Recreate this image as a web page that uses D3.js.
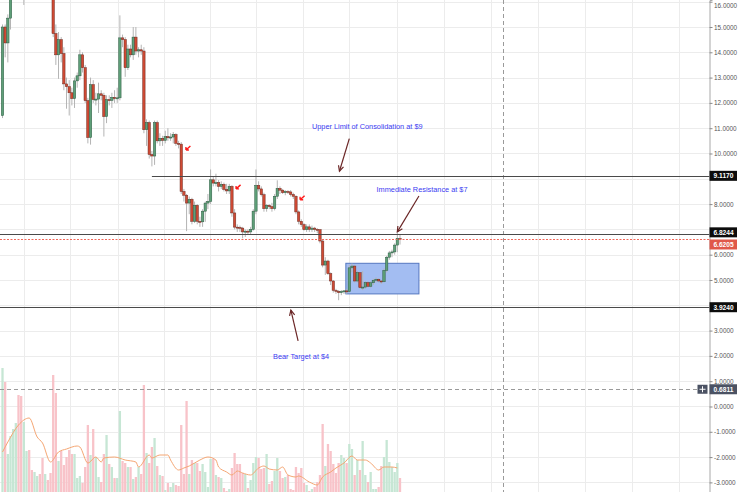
<!DOCTYPE html>
<html><head><meta charset="utf-8">
<script src="https://cdn.jsdelivr.net/npm/d3@7"></script>
<style>html,body{margin:0;padding:0;background:#fff;overflow:hidden}</style>
</head><body><svg id="c" width="740" height="492"></svg>
<script>
// ---------- data ----------
const opens=[11.5,15.0,14.37,15.35,16.3,16.8,17.3,16.9,16.4,17.2,
17.8,17.5,17.1,17.6,18.0,17.3,16.9,17.2,16.6,16.5,
14.74,13.9,14.5,13.95,12.75,12.64,12.4,12.17,12.87,13.07,
13.9,13.39,12.09,10.63,12.72,12.13,12.15,12.36,12.3,11.46,
12.13,12.1,12.22,12.17,12.2,14.57,14.5,13.39,14.13,13.9,
14.6,14.05,14.1,14.05,10.94,11.22,9.96,9.9,11.22,10.5,
10.6,10.52,10.67,10.62,10.65,10.75,10.4,10.37,8.5,8.35,
8.04,8.19,7.32,7.95,7.32,7.3,7.72,8.04,8.11,8.96,
8.83,8.85,8.7,8.78,8.58,8.52,8.7,7.65,7.09,7.08,
7.05,6.9,6.93,6.9,7.0,7.72,8.74,8.6,8.37,7.82,
7.95,7.9,7.82,8.31,8.62,8.55,8.45,8.5,8.48,8.38,
8.31,7.69,7.32,7.19,6.99,7.1,7.0,7.05,7.0,6.99,
6.54,5.59,5.75,5.25,4.96,4.59,4.55,4.5,4.54,4.57,
4.54,5.48,5.55,4.96,5.29,4.7,4.72,4.9,4.75,4.89,
4.99,5.03,4.96,4.93,5.38,5.9,6.07,6.11,6.38,6.64];
const highs=[15.1,15.1,15.5,16.4,17.0,17.6,17.5,17.2,17.4,18.0,
18.4,17.9,17.8,18.2,18.3,17.6,17.5,17.4,17.0,16.6,
15.1,14.8,14.6,14.2,13.0,12.9,12.6,13.0,13.2,14.1,
14.0,13.5,12.2,13.0,12.9,12.4,12.8,12.5,12.4,12.3,
12.3,12.4,12.5,12.6,15.46,14.7,14.6,14.3,14.3,15.0,
15.0,14.2,14.3,14.2,11.35,11.3,10.1,11.3,11.3,10.8,
10.7,10.9,11.0,10.8,10.85,10.8,10.5,10.45,8.6,8.4,
8.3,8.25,8.1,8.0,7.5,7.8,8.1,8.4,9.37,9.1,
9.2,8.95,8.9,8.85,8.8,8.8,8.75,7.8,7.2,7.15,
7.1,7.0,7.0,7.1,7.8,9.37,8.9,8.7,8.45,8.0,
8.0,8.05,8.4,8.94,8.7,8.6,8.55,8.55,8.55,8.45,
8.35,7.75,7.4,7.25,7.2,7.2,7.15,7.1,7.05,7.0,
6.6,5.9,5.8,5.3,5.0,4.65,4.6,4.6,4.6,4.65,
5.6,5.65,5.6,5.35,5.3,5.35,4.95,4.95,4.95,5.05,
5.1,5.06,5.0,5.45,5.95,6.15,6.2,6.45,6.86,6.8];
const lows=[11.4,13.8,13.6,14.9,16.1,16.5,16.6,16.2,15.87,17.0,
17.3,16.9,16.8,17.2,17.1,16.6,16.5,16.3,16.1,14.6,
13.5,12.95,13.6,12.5,11.77,11.5,11.9,11.8,12.6,12.9,
13.2,12.0,10.4,10.35,12.0,11.9,11.6,12.1,10.67,11.2,
11.9,11.8,12.0,12.0,12.1,14.2,13.03,13.3,13.8,13.7,
13.9,13.8,13.9,10.8,10.3,9.8,9.49,9.55,10.4,10.3,
10.3,10.4,10.5,10.5,10.4,10.3,10.2,8.4,8.1,6.93,
7.6,7.2,7.25,7.2,7.1,7.1,7.3,7.8,8.0,8.7,
8.7,8.5,8.6,8.5,8.4,8.4,7.5,7.0,6.9,6.9,
6.65,6.7,6.8,6.8,6.95,7.6,8.5,8.3,7.7,7.7,
7.8,7.7,7.75,8.2,8.4,8.4,8.35,8.4,8.3,8.2,
7.6,7.2,7.1,6.95,6.9,6.9,6.9,6.9,6.85,6.45,
5.5,5.2,5.2,4.8,4.5,4.45,4.2,4.4,4.45,4.45,
4.5,5.3,4.9,4.9,4.65,4.6,4.65,4.7,4.7,4.8,
4.9,4.9,4.85,4.9,5.3,5.8,5.9,6.0,6.1,6.4];
const closes=[15.0,14.37,15.35,16.3,16.8,17.3,16.9,16.4,17.2,17.8,
17.5,17.1,17.6,18.0,17.3,16.9,17.2,16.6,16.5,14.74,
13.9,14.5,13.95,12.75,12.64,12.4,12.17,12.87,13.07,13.9,
13.39,12.09,10.63,12.72,12.13,12.15,12.36,12.3,11.46,12.13,
12.1,12.22,12.17,12.2,14.57,14.5,13.39,14.13,13.9,14.6,
14.05,14.1,14.05,10.94,11.22,9.96,9.9,11.22,10.5,10.6,
10.52,10.67,10.62,10.65,10.75,10.4,10.37,8.5,8.35,8.04,
8.19,7.32,7.95,7.32,7.3,7.72,8.04,8.11,8.96,8.83,
8.85,8.7,8.78,8.58,8.52,8.7,7.65,7.09,7.08,7.05,
6.9,6.93,6.9,7.0,7.72,8.74,8.6,8.37,7.82,7.95,
7.9,7.82,8.31,8.62,8.55,8.45,8.5,8.48,8.38,8.31,
7.69,7.32,7.19,6.99,7.1,7.0,7.05,7.0,6.99,6.54,
5.59,5.75,5.25,4.96,4.59,4.55,4.5,4.54,4.57,4.54,
5.48,5.55,4.96,5.29,4.7,4.72,4.9,4.75,4.89,4.99,
5.03,4.96,4.93,5.38,5.9,6.07,6.11,6.38,6.64,6.6205];
const volumes=[124,110,38,56,63,69,97,96,70,41,
42,22,20,16,18,34,18,12,19,117,
99,31,41,27,35,42,38,38,14,16,
9,25,67,37,63,35,15,10,38,57,
28,25,14,14,81,31,29,25,25,13,
15,25,18,107,39,29,45,54,26,17,
16,2,9,5,9,7,6,67,18,91,
18,32,29,29,21,28,20,5,33,33,
17,15,14,4,1,3,24,39,28,28,
19,18,4,12,29,35,34,23,24,38,
8,11,21,34,21,14,15,17,3,2,
25,19,24,9,7,1,3,5,10,17,
68,26,48,41,28,19,29,37,34,29,
48,43,17,32,22,51,17,10,20,3,
3,5,26,35,52,30,25,20,29,14];
// volume moving average read at selected bars
const maIdx=[0,2,6,10,13,15,18,21,24,28,29,32,35,37,38,42,46,50,51,55,56,59,62,63,66,68,70,74,77,80,81,84,86,88,90,93,96,98,100,103,105,107,110,111,115,118,120,123,125,128,131,133,136,138,141,143,146,148];
const maVal=[40,50,67,74,55,49,30,40,43,46,45,29,35,30,34,35,32,30,25,37,34,37,37,32,22,24,26,32,35,32,25,20,17,21,19,17,24,26,23,22,25,17,15,16,10,7,15,20,24,29,36,32,32,29,22,25,25,24];
const priceTicks=[-3,-2,-1,0,1,2,3,4,5,6,7,8,9,10,11,12,13,14,15,16];
const labelTicks=[-3,-2,-1,0,1,2,3,5,6,8,10,11,12,13,14,15,16];
const gridIdx=[8,25.3,43.3,60.5,77.8,95,112.6,129.9,147.9,165.5,183.1,200.7,218.3,235.9,253.5];
const levels=[{v:9.117,from:56,label:"9.1170"},{v:6.8244,from:-2,label:"6.8244"},{v:3.924,from:-2,label:"3.9240"}];
const lastPrice=6.6205, crossPrice=0.6811, crossIdx=187.6;
const notes=[
 {text:"Upper Limit of Consolidation at $9",i:116.0,p:10.97,ai:[130.0,10.59],bi:[126.3,9.30]},
 {text:"Immediate Resistance at $7",i:140.2,p:8.48,ai:[156.1,8.32],bi:[148.0,6.90]},
 {text:"Bear Target at $4",i:101.4,p:1.88,ai:[110.8,2.59],bi:[108.1,3.81]}];
const boxZone={i0:128.7,i1:156.1,p0:4.45,p1:5.66};
const redMarks=[[69.5,10.22],[88.3,8.68],[112.3,8.25]];

// ---------- drawing ----------
const svg=d3.select('#c');
const AX=709.5;
const x=d3.scaleLinear().domain([0,149]).range([2.5,400]);
const y=d3.scaleLinear().domain([-3.38,16.067]).range([492,0]);
const yV=d3.scaleLinear().domain([0,124]).range([492,368]);
const font="'Liberation Sans',Arial,sans-serif";

svg.append('defs').append('clipPath').attr('id','plot').append('rect').attr('x',0).attr('y',0).attr('width',AX).attr('height',492);
const g=svg.append('g').attr('clip-path','url(#plot)');

// grid
g.selectAll('.hg').data(priceTicks).enter().append('line')
 .attr('x1',0).attr('x2',AX).attr('y1',d=>Math.round(y(d))+0.5).attr('y2',d=>Math.round(y(d))+0.5)
 .attr('stroke','#ececec').attr('stroke-width',1);
g.selectAll('.vg').data(gridIdx).enter().append('line')
 .attr('y1',0).attr('y2',492).attr('x1',d=>Math.round(x(d))+0.5).attr('x2',d=>Math.round(x(d))+0.5)
 .attr('stroke','#ececec').attr('stroke-width',1);

// volume
const idx=d3.range(closes.length);
g.selectAll('.vol').data(idx).enter().append('rect')
 .attr('x',i=>x(i)-1.15).attr('width',2.3)
 .attr('y',i=>yV(volumes[i])).attr('height',i=>492-yV(volumes[i]))
 .attr('fill',i=>closes[i]>=opens[i]?'#c6e6d4':'#f8c3c9');
g.append('path').datum(maIdx.map((d,k)=>[d,maVal[k]]))
 .attr('d',d3.line().x(d=>x(d[0])).y(d=>yV(d[1])).curve(d3.curveMonotoneX))
 .attr('fill','none').attr('stroke','#f5a673').attr('stroke-width',1);

// crosshair
g.append('line').attr('x1',Math.round(x(crossIdx))+0.5).attr('x2',Math.round(x(crossIdx))+0.5).attr('y1',0).attr('y2',492)
 .attr('stroke','#9a9a9a').attr('stroke-dasharray','4,3').attr('stroke-width',1);
g.append('line').attr('x1',0).attr('x2',697).attr('y1',Math.round(y(crossPrice))+0.5).attr('y2',Math.round(y(crossPrice))+0.5)
 .attr('stroke','#9a9a9a').attr('stroke-dasharray','4,3').attr('stroke-width',1);

// blue zone
g.append('rect').attr('x',x(boxZone.i0)).attr('width',x(boxZone.i1)-x(boxZone.i0))
 .attr('y',y(boxZone.p1)).attr('height',y(boxZone.p0)-y(boxZone.p1))
 .attr('fill','#a3bdf2').attr('stroke','#5577c0').attr('stroke-width',1);

// candles
g.selectAll('.wick').data(idx).enter().append('line')
 .attr('x1',i=>x(i)).attr('x2',i=>x(i)).attr('y1',i=>y(highs[i])).attr('y2',i=>y(lows[i]))
 .attr('stroke','#b4b4b4').attr('stroke-width',1);
g.selectAll('.body').data(idx).enter().append('rect')
 .attr('x',i=>x(i)-1.2).attr('width',2.4)
 .attr('y',i=>y(Math.max(opens[i],closes[i])))
 .attr('height',i=>Math.max(1,Math.abs(y(opens[i])-y(closes[i]))))
 .attr('fill',i=>closes[i]>=opens[i]?'#5e9f78':'#cf4a34')
 .attr('stroke',i=>closes[i]>=opens[i]?'#2b5a40':'#6e2a20').attr('stroke-width',0.5);

// levels
levels.forEach(l=>{
 g.append('line').attr('x1',x(l.from)).attr('x2',AX).attr('y1',Math.round(y(l.v))+0.5).attr('y2',Math.round(y(l.v))+0.5)
  .attr('stroke','#4a4a4a').attr('stroke-width',1);
});
g.append('line').attr('x1',0).attr('x2',AX).attr('y1',Math.round(y(lastPrice))+0.5).attr('y2',Math.round(y(lastPrice))+0.5)
 .attr('stroke','#f0675a').attr('stroke-dasharray','2,1.5').attr('stroke-width',1);

// red marks
redMarks.forEach(m=>{
 const cx=x(m[0]),cy=y(m[1]);
 g.append('path').attr('d',`M${cx+2.5},${cy-2} L${cx-2},${cy+2} M${cx-2},${cy+2} L${cx-2},${cy-1} M${cx-2},${cy+2} L${cx+1},${cy+2}`)
  .attr('stroke','#ff1a1a').attr('stroke-width',1.4).attr('fill','none');
});

// annotations
notes.forEach(n=>{
 g.append('text').attr('x',x(n.i)).attr('y',y(n.p)).text(n.text)
  .attr('font-family',font).attr('font-size','7.35px').attr('fill','#3b3bf2');
 const ax=x(n.ai[0]),ay=y(n.ai[1]),bx=x(n.bi[0]),by=y(n.bi[1]);
 g.append('line').attr('x1',ax).attr('y1',ay).attr('x2',bx).attr('y2',by).attr('stroke','#6b2626').attr('stroke-width',1.2);
 const ang=Math.atan2(by-ay,bx-ax), L=6, s=0.45;
 g.append('path').attr('d',`M${bx-L*Math.cos(ang-s)},${by-L*Math.sin(ang-s)} L${bx},${by} L${bx-L*Math.cos(ang+s)},${by-L*Math.sin(ang+s)}`)
  .attr('stroke','#6b2626').attr('stroke-width',1.2).attr('fill','none');
});

// right axis
const axis=d3.axisRight(y).tickValues(labelTicks).tickSize(3).tickFormat(d=>d.toFixed(4));
const ag=svg.append('g').attr('transform',`translate(${AX},0)`).call(axis);
ag.select('.domain').attr('stroke','#a8a8a8');
ag.selectAll('.tick line').attr('stroke','#8a8a8a');
ag.selectAll('.tick text').attr('font-family',font).attr('font-size','6.4px').attr('fill','#555').attr('x',4.5)
 .attr('dy',d=>d===16?'0.95em':'0.32em');

function tag(v,cy,txt,fill){
 svg.append('rect').attr('x',AX).attr('y',cy-5).attr('width',27.5).attr('height',10).attr('fill',fill);
 svg.append('text').attr('x',AX+14).attr('y',cy+2.3).attr('text-anchor','middle').text(txt)
  .attr('font-family',font).attr('font-size','6.6px').attr('font-weight','bold').attr('fill','#fff');
}
tag(9.117,y(9.117),'9.1170','#0c0c0c');
tag(6.8244,y(6.8244)-1.5,'6.8244','#0c0c0c');
tag(lastPrice,y(lastPrice)+5.5,'6.6205','#e0584a');
tag(3.924,y(3.924),'3.9240','#0c0c0c');
tag(crossPrice,y(crossPrice),'0.6811','#4b5263');
// plus button
const py=y(crossPrice);
svg.append('rect').attr('x',697.5).attr('y',py-4.5).attr('width',10).attr('height',9).attr('fill','#4b5263');
svg.append('path').attr('d',`M${702.5},${py-3} L${702.5},${py+3} M${699.5},${py} L${705.5},${py}`).attr('stroke','#fff').attr('stroke-width',1);
</script></body></html>
